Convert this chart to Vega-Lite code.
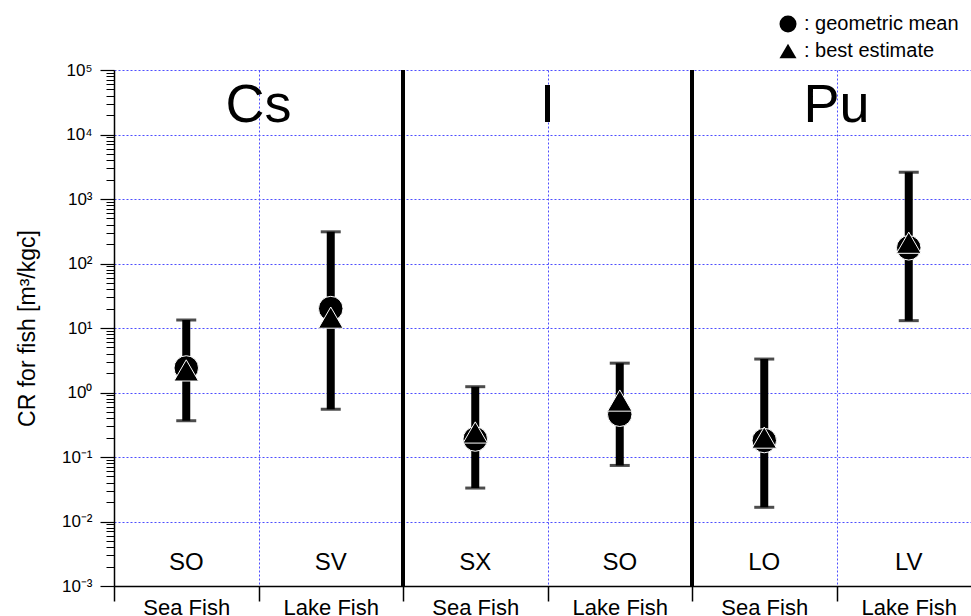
{
  "$schema": "https://vega.github.io/schema/vega-lite/v6.json",
  "width": 867,
  "height": 516,
  "autosize": {"type": "none"},
  "padding": {"left": 114, "top": 70, "right": 0, "bottom": 30},
  "config": {"view": {"stroke": null}, "font": "Liberation Sans"},
  "resolve": {"axis": {"y": "independent"}},
  "datasets": {
    "fish": [
      {"element": "Cs", "cat": "Cs-Sea", "code": "SO", "lo": 0.365, "hi": 13.3, "geometric mean": 2.4, "best estimate": 2.2},
      {"element": "Cs", "cat": "Cs-Lake", "code": "SV", "lo": 0.55, "hi": 310, "geometric mean": 20, "best estimate": 14.5},
      {"element": "I", "cat": "I-Sea", "code": "SX", "lo": 0.033, "hi": 1.23, "geometric mean": 0.19, "best estimate": 0.24},
      {"element": "I", "cat": "I-Lake", "code": "SO", "lo": 0.074, "hi": 2.85, "geometric mean": 0.46, "best estimate": 0.75},
      {"element": "Pu", "cat": "Pu-Sea", "code": "LO", "lo": 0.0166, "hi": 3.3, "geometric mean": 0.18, "best estimate": 0.2},
      {"element": "Pu", "cat": "Pu-Lake", "code": "LV", "lo": 13, "hi": 2600, "geometric mean": 175, "best estimate": 210}
    ],
    "elements": [
      {"element": "Cs", "cat": "Cs-Lake"},
      {"element": "I", "cat": "I-Lake"},
      {"element": "Pu", "cat": "Pu-Lake"}
    ],
    "seps": [
      {"cat": "I-Sea"},
      {"cat": "Pu-Sea"}
    ]
  },
  "layer": [
    {
      "data": {"name": "fish"},
      "mark": {"type": "rule", "strokeWidth": 8, "color": "black"},
      "encoding": {
        "x": {
          "field": "cat",
          "type": "nominal",
          "sort": null,
          "scale": {"type": "band", "domain": ["Cs-Sea", "Cs-Lake", "I-Sea", "I-Lake", "Pu-Sea", "Pu-Lake"], "paddingInner": 0, "paddingOuter": 0},
          "axis": {
            "title": null,
            "labelExpr": "indexof(datum.value,'Sea')>=0 ? 'Sea Fish' : 'Lake Fish'",
            "labelFontSize": 22,
            "labelColor": "black",
            "labelAngle": 0,
            "labelBaseline": "middle",
            "labelPadding": 6,
            "tickOffset": -72.25,
            "labelOffset": 72.25,
            "tickSize": 15,
            "tickColor": "black",
            "tickWidth": 1.5,
            "domainColor": "black",
            "domainWidth": 1.5,
            "grid": true,
            "gridColor": "#4d4dff",
            "gridDash": [2, 2],
            "gridWidth": 1
          }
        },
        "y": {
          "field": "lo",
          "type": "quantitative",
          "scale": {"type": "log", "domain": [0.001, 100000]},
          "axis": {
            "orient": "left",
            "title": "CR for fish [m³/kgc]",
            "titleFontSize": 23,
            "titleFontWeight": "normal",
            "titleColor": "black",
            "titlePadding": 22,
            "values": [0.001, 0.01, 0.1, 1, 10, 100, 1000, 10000, 100000],
            "labelExpr": "datum.value < 0.005 ? '10⁻³' : datum.value < 0.05 ? '10⁻²' : datum.value < 0.5 ? '10⁻¹' : datum.value < 5 ? '10⁰' : datum.value < 50 ? '10¹' : datum.value < 500 ? '10²' : datum.value < 5000 ? '10³' : datum.value < 50000 ? '10⁴' : '10⁵'",
            "labelFontSize": 17,
            "labelColor": "black",
            "labelPadding": 8,
            "domainColor": "black",
            "domainWidth": 1.5,
            "tickColor": "black",
            "tickWidth": 1.2,
            "tickSize": 14,
            "grid": true,
            "gridColor": "#4d4dff",
            "gridDash": [2, 2],
            "gridWidth": 1
          }
        },
        "y2": {"field": "hi"}
      }
    },
    {
      "data": {"name": "seps"},
      "mark": {"type": "rule", "strokeWidth": 4, "color": "black", "xOffset": -72.25},
      "encoding": {
        "x": {"field": "cat", "type": "nominal", "sort": null}
      }
    },
    {
      "data": {"name": "fish"},
      "mark": {"type": "tick", "thickness": 3, "size": 20, "color": "black"},
      "encoding": {
        "x": {"field": "cat", "type": "nominal", "sort": null},
        "y": {
          "field": "lo",
          "type": "quantitative",
          "axis": {
            "orient": "left",
            "title": null,
            "values": [0.002, 0.003, 0.004, 0.005, 0.006, 0.007, 0.008, 0.009, 0.02, 0.03, 0.04, 0.05, 0.06, 0.07, 0.08, 0.09, 0.2, 0.3, 0.4, 0.5, 0.6, 0.7, 0.8, 0.9, 2, 3, 4, 5, 6, 7, 8, 9, 20, 30, 40, 50, 60, 70, 80, 90, 200, 300, 400, 500, 600, 700, 800, 900, 2000, 3000, 4000, 5000, 6000, 7000, 8000, 9000, 20000, 30000, 40000, 50000, 60000, 70000, 80000, 90000],
            "labels": false,
            "domain": false,
            "grid": false,
            "tickColor": "black",
            "tickWidth": 1,
            "tickSize": 8
          }
        }
      }
    },
    {
      "data": {"name": "fish"},
      "mark": {"type": "tick", "thickness": 3, "size": 20, "color": "black"},
      "encoding": {
        "x": {"field": "cat", "type": "nominal", "sort": null},
        "y": {"field": "hi", "type": "quantitative", "axis": null}
      }
    },
    {
      "data": {"name": "fish"},
      "transform": [{"fold": ["geometric mean", "best estimate"], "as": ["stat", "val"]}],
      "mark": {"type": "point", "filled": true, "fill": "black", "stroke": "white", "strokeWidth": 1, "opacity": 1, "size": 600},
      "encoding": {
        "x": {"field": "cat", "type": "nominal", "sort": null},
        "y": {"field": "val", "type": "quantitative", "axis": null},
        "shape": {
          "field": "stat",
          "type": "nominal",
          "scale": {"domain": ["geometric mean", "best estimate"], "range": ["circle", "triangle-up"]},
          "legend": {
            "orient": "none",
            "legendX": 664,
            "legendY": -56,
            "title": null,
            "padding": 0,
            "labelExpr": "': ' + datum.label",
            "labelFontSize": 20,
            "labelColor": "black",
            "labelOffset": 6,
            "symbolSize": 290,
            "symbolFillColor": "black",
            "symbolStrokeColor": "black",
            "symbolStrokeWidth": 0,
            "rowPadding": 7
          }
        }
      }
    },
    {
      "data": {"name": "fish"},
      "mark": {"type": "text", "fontSize": 24, "baseline": "middle", "align": "center", "color": "black"},
      "encoding": {
        "x": {"field": "cat", "type": "nominal", "sort": null},
        "y": {"datum": 0.0023, "type": "quantitative", "axis": null},
        "text": {"field": "code"}
      }
    },
    {
      "data": {"name": "elements"},
      "mark": {"type": "text", "fontSize": 54, "baseline": "middle", "align": "center", "color": "black", "dx": -72.25},
      "encoding": {
        "x": {"field": "cat", "type": "nominal", "sort": null},
        "y": {"datum": 28000, "type": "quantitative", "axis": null},
        "text": {"field": "element"}
      }
    }
  ]
}
